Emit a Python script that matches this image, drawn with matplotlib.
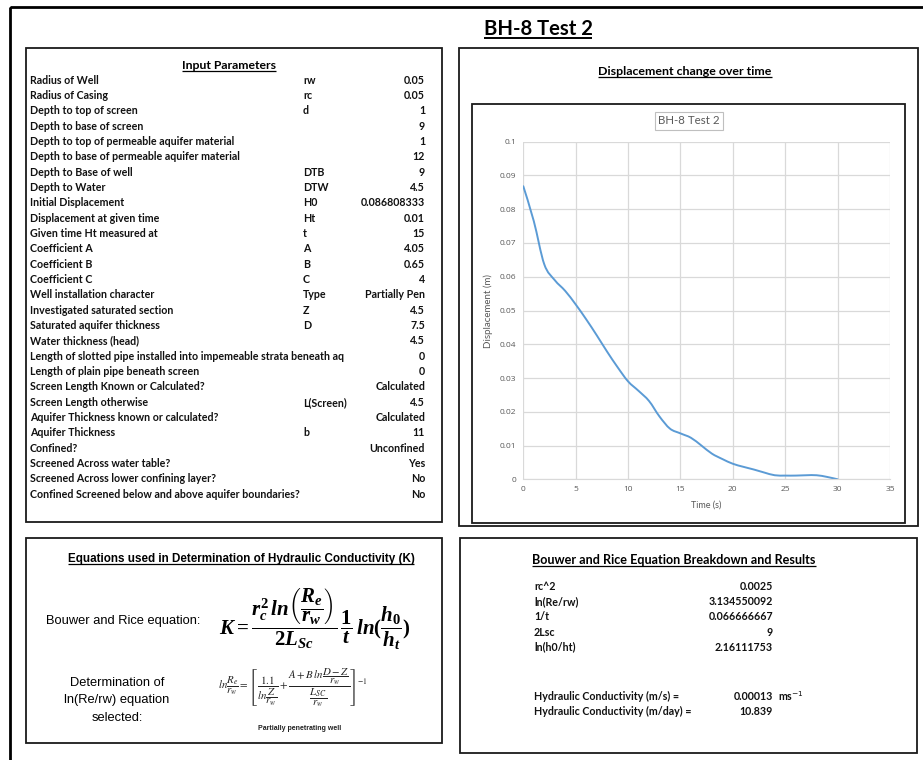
import matplotlib
matplotlib.use('Agg')
import matplotlib.pyplot as plt
from matplotlib.patches import Rectangle, PathPatch
from matplotlib.path import Path
from matplotlib.ticker import MultipleLocator, FuncFormatter

plt.rcParams['mathtext.fontset'] = 'custom'
plt.rcParams['mathtext.it'] = 'Liberation Serif:italic:bold'
plt.rcParams['mathtext.rm'] = 'Liberation Serif:bold'
plt.rcParams['mathtext.bf'] = 'Liberation Serif:bold'

# ---------------- data ----------------
title = "BH-8 Test 2"

param_labels = [
    "Radius of Well", "Radius of Casing", "Depth to top of screen", "Depth to base of screen",
    "Depth to top of permeable aquifer material", "Depth to base of permeable aquifer material",
    "Depth to Base of well", "Depth to Water", "Initial Displacement", "Displacement at given time",
    "Given time Ht measured at", "Coefficient A", "Coefficient B", "Coefficient C",
    "Well installation character", "Investigated saturated section", "Saturated aquifer thickness",
    "Water thickness (head)", "Length of slotted pipe installed into impemeable strata beneath aq",
    "Length of plain pipe beneath screen", "Screen Length Known or Calculated?",
    "Screen Length otherwise", "Aquifer Thickness known or calculated?", "Aquifer Thickness",
    "Confined?", "Screened Across water table?", "Screened Across lower confining layer?",
    "Confined Screened below and above aquifer boundaries?",
]
param_symbols = ["rw", "rc", "d", "", "", "", "DTB", "DTW", "H0", "Ht", "t", "A", "B", "C",
                 "Type", "Z", "D", "", "", "", "", "L(Screen)", "", "b", "", "", "", ""]
param_values = ["0.05", "0.05", "1", "9", "1", "12", "9", "4.5", "0.086808333", "0.01", "15",
                "4.05", "0.65", "4", "Partially Pen", "4.5", "7.5", "4.5", "0", "0", "Calculated",
                "4.5", "Calculated", "11", "Unconfined", "Yes", "No", "No"]

time_s = [0, 1, 2, 3, 4, 5, 6, 7, 8, 9, 10, 11, 12, 13, 14, 15, 16, 17, 18, 19, 20,
          21, 22, 23, 24, 25, 26, 27, 28, 29, 30]
displacement_m = [0.0868, 0.0765, 0.0637, 0.0590, 0.0558, 0.0518, 0.0474, 0.0427, 0.0378,
                  0.0332, 0.0290, 0.0262, 0.0232, 0.0186, 0.0150, 0.0136, 0.0123, 0.0100,
                  0.0076, 0.0060, 0.0046, 0.0037, 0.0029, 0.0020, 0.0012, 0.0011, 0.0011,
                  0.0012, 0.0012, 0.0007, 0.0000]

result_labels = ["rc^2", "ln(Re/rw)", "1/t", "2Lsc", "ln(h0/ht)"]
result_values = ["0.0025", "3.134550092", "0.066666667", "9", "2.16111753"]
k_labels = ["Hydraulic Conductivity (m/s) =", "Hydraulic Conductivity (m/day) ="]
k_values = ["0.00013", "10.839"]
k_units = ["ms$^{-1}$", ""]

# ---------------- layout ----------------
W, H = 923, 760
fig = plt.figure(figsize=(W / 100, H / 100), dpi=100)
fig.patch.set_facecolor('white')
bg = fig.add_axes([0, 0, 1, 1])
bg.set_xlim(0, W)
bg.set_ylim(H, 0)
bg.axis('off')

CAL = 'Lato'
ARI = 'Liberation Sans'
TXT = 7.7
underlined = []


def box(x0, y0, x1, y1, lw=1.3, color='#1a1a1a'):
    bg.add_patch(Rectangle((x0, y0), x1 - x0, y1 - y0, fill=False, lw=lw, ec=color))


def uhead(x, y, s, size, family=CAL):
    t = bg.text(x, y, s, ha='center', va='baseline', fontsize=size, family=family,
                weight='bold', color='black')
    underlined.append((t, y))
    return t


# outer frame and panels
box(10, 7, 940, 780, lw=2.0, color='black')
box(26, 48, 442, 522)
box(459, 48, 918, 526)
box(472, 104, 905, 523)
box(26, 538, 442, 743)
box(460, 538, 917, 753)

# main title
uhead(538, 35, title, 14.6)

# ---------------- Input Parameters ----------------
uhead(229, 69, "Input Parameters", 8.8)
y0, dy = 80.3, 15.33
for i, (lab, sym, val) in enumerate(zip(param_labels, param_symbols, param_values)):
    y = y0 + i * dy
    bg.text(30, y, lab, ha='left', va='center', fontsize=TXT, family=CAL, weight='bold', color='#111111')
    if sym:
        bg.text(303, y, sym, ha='left', va='center', fontsize=TXT, family=CAL, weight='bold', color='#111111')
    bg.text(425, y, val, ha='right', va='center', fontsize=TXT, family=CAL, weight='bold', color='#111111')

# ---------------- Displacement chart ----------------
uhead(685, 75, "Displacement change over time", 8.9)
bg.text(689, 121, title, ha='center', va='center', fontsize=8.3, family=CAL, color='#595959',
        bbox=dict(boxstyle='square,pad=0.3', fc='white', ec='#BFBFBF', lw=0.8))

ax = fig.add_axes([523.3 / W, 1 - 479.3 / H, (890 - 523.3) / W, (479.3 - 141.7) / H])
ax.set_xlim(0, 35)
ax.set_ylim(0, 0.1)
ax.xaxis.set_major_locator(MultipleLocator(5))
ax.yaxis.set_major_locator(MultipleLocator(0.01))
ax.yaxis.set_major_formatter(FuncFormatter(lambda v, p: '0' if abs(v) < 1e-9 else f'{round(v, 2):g}'))
ax.grid(True, color='#D9D9D9', lw=0.9)
ax.set_axisbelow(True)
for s in ['top', 'right', 'left']:
    ax.spines[s].set_visible(False)
ax.spines['bottom'].set_color('#D9D9D9')
ax.tick_params(length=0, labelsize=6, colors='#595959', pad=5)
for lab in ax.get_xticklabels() + ax.get_yticklabels():
    lab.set_family('Open Sans')

# smooth (Catmull-Rom style) rendering through the data points
pts = list(zip(time_s, displacement_m))
verts = [pts[0]]
codes = [Path.MOVETO]
n = len(pts)
for i in range(n - 1):
    p0 = pts[i - 1] if i > 0 else pts[i]
    p1 = pts[i]
    p2 = pts[i + 1]
    p3 = pts[i + 2] if i + 2 < n else pts[i + 1]
    c1 = (p1[0] + (p2[0] - p0[0]) / 6, p1[1] + (p2[1] - p0[1]) / 6)
    c2 = (p2[0] - (p3[0] - p1[0]) / 6, p2[1] - (p3[1] - p1[1]) / 6)
    verts += [c1, c2, p2]
    codes += [Path.CURVE4] * 3
ax.add_patch(PathPatch(Path(verts, codes), fill=False, ec='#5B9BD5', lw=1.4, capstyle='round'))

ax.set_xlabel("Time (s)", fontsize=6.5, color='#595959', family=CAL, labelpad=5)
ax.set_ylabel("Displacement (m)", fontsize=7, color='#595959', family=CAL, labelpad=5)

# ---------------- Equations panel ----------------
uhead(241, 562, "Equations used in Determination of Hydraulic Conductivity (K)", 8.4, family=ARI)
bg.text(46, 621, "Bouwer and Rice equation:", ha='left', va='center', fontsize=9.3, family=ARI)
eq1 = (r'$K = \dfrac{r_c^2\,ln\left(\dfrac{R_e}{r_w}\right)}{2L_{Sc}}\,\dfrac{1}{t}\,'
       r'ln(\dfrac{h_0}{h_t})$')
bg.text(219, 619, eq1, ha='left', va='center', fontsize=15, math_fontfamily='custom')
for k, line in enumerate(["Determination of", "ln(Re/rw) equation", "selected:"]):
    bg.text(117, 683 + k * 17.5, line, ha='center', va='center', fontsize=9.3, family=ARI)
eq2 = (r'$ln\dfrac{R_e}{r_w} = \left[\dfrac{1.1}{ln\dfrac{Z}{r_w}} + '
       r'\dfrac{A + B\,ln\dfrac{D-Z}{r_w}}{\dfrac{L_{SC}}{r_w}}\right]^{-1}$')
bg.text(218, 688, eq2, ha='left', va='center', fontsize=7.8, math_fontfamily='stix', color='#222222')
bg.text(300, 729, "Partially penetrating well", ha='center', va='center', fontsize=5,
        family=ARI, weight='bold', color='#222222')

# ---------------- Results panel ----------------
uhead(674, 564, "Bouwer and Rice Equation Breakdown and Results", 9.1)
for i, (lab, val) in enumerate(zip(result_labels, result_values)):
    y = 586.7 + i * 15.1
    bg.text(534, y, lab, ha='left', va='center', fontsize=TXT, family=CAL, weight='bold', color='#111111')
    bg.text(773, y, val, ha='right', va='center', fontsize=TXT, family=CAL, weight='bold', color='#111111')
for i, (lab, val, unit) in enumerate(zip(k_labels, k_values, k_units)):
    y = 696 + i * 15.2
    bg.text(534, y, lab, ha='left', va='center', fontsize=TXT, family=CAL, weight='bold', color='#111111')
    bg.text(773, y, val, ha='right', va='center', fontsize=TXT, family=CAL, weight='bold', color='#111111')
    if unit:
        bg.text(778, y, unit, ha='left', va='center', fontsize=TXT, family=CAL, weight='bold',
                color='#111111', math_fontfamily='dejavusans')

# underlines
fig.canvas.draw()
r = fig.canvas.get_renderer()
inv = bg.transData.inverted()
for t, yb in underlined:
    bb = t.get_window_extent(renderer=r)
    (xa, _), (xb, _) = inv.transform([(bb.x0, bb.y0), (bb.x1, bb.y0)])
    lw = 1.4 if t.get_fontsize() > 10 else 0.9
    off = 3.0 if t.get_fontsize() > 10 else 2.0
    bg.plot([xa, xb], [yb + off, yb + off], color='black', lw=lw, solid_capstyle='butt')

fig.savefig('out.png', dpi=100)
